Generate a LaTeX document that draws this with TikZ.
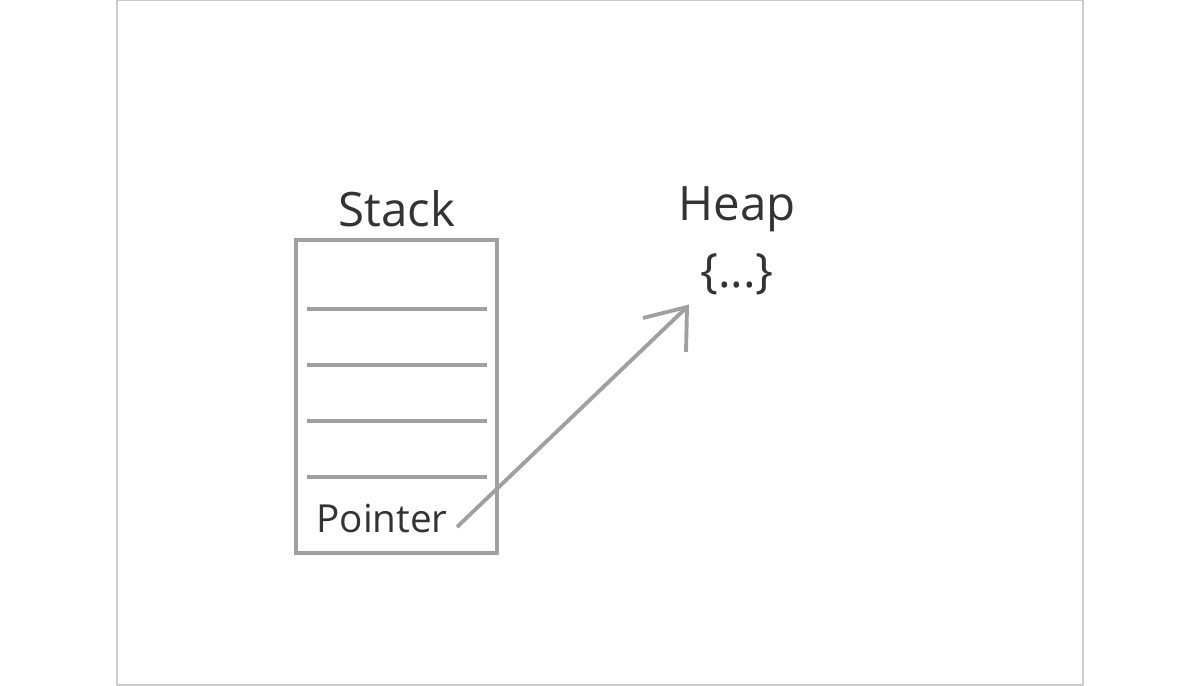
\documentclass[tikz,border=0pt]{standalone}
\usepackage{fontspec}
\setmainfont{Open Sans}
\begin{document}
\begin{tikzpicture}[x=0.02cm,y=-0.02cm]
\definecolor{ln}{HTML}{A0A0A0}
\definecolor{tx}{HTML}{333333}
\tikzset{gl/.style={draw=ln,line width=2.2pt},lbl/.style={text=tx,font=\fontsize{27}{30}\selectfont,inner sep=0}}
\useasboundingbox (0,0) rectangle (1200,686);
\draw[draw=black!20,line width=0.8pt] (117,0.5) rectangle (1083,685);
\node[gl,minimum width=201*0.02cm,minimum height=313*0.02cm,inner sep=0] (stack) at (396.5,396.5) {};
\foreach \yy in {309,365,421,477} \draw[gl] (307,\yy) -- (487,\yy);
\node[lbl] (st) at (397,209) {Stack};
\node[lbl] (hp) at (737,209) {Heap};
\node[lbl] (br) at (737,274) {\{...\}};
\node[lbl,font=\fontsize{22}{24}\selectfont] (ptr) at (382,519) {Pointer};
\coordinate (s) at (457,527);
\coordinate (t) at (687,307);
\draw[gl] (s) -- (t);
\draw[gl,line join=miter] (643,318) -- (t) -- (686,352);
\end{tikzpicture}
\end{document}
